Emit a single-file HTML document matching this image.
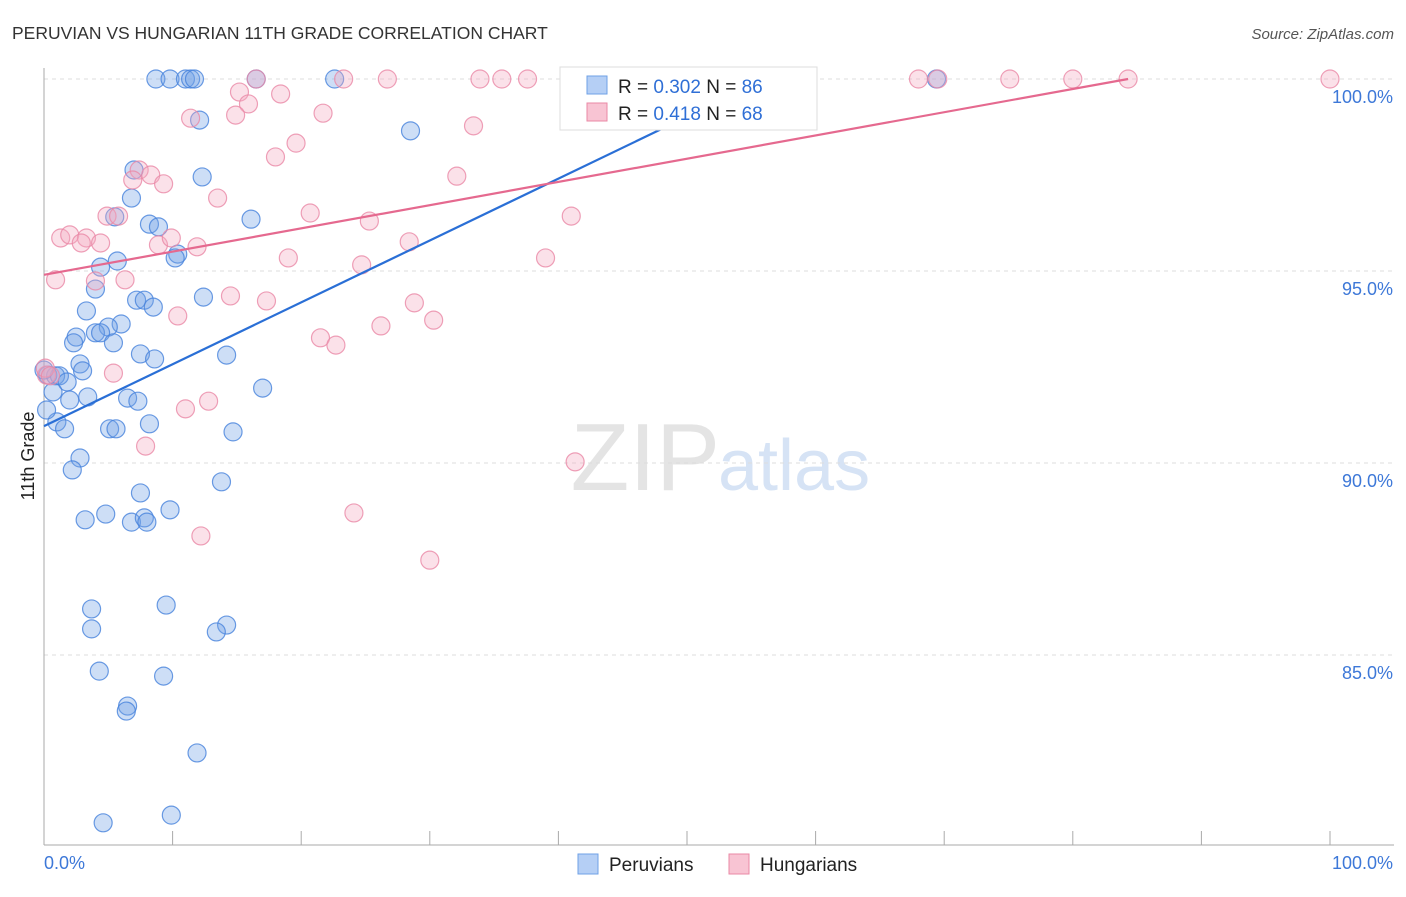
<!DOCTYPE html>
<html><head><meta charset="utf-8"><style>
body{margin:0;background:#fff;font-family:"Liberation Sans",sans-serif;}
svg text{font-family:"Liberation Sans",sans-serif;}
</style></head><body>
<svg width="1406" height="892" viewBox="0 0 1406 892" id="chart">
<text x="12" y="39" font-size="17.5" fill="#333">PERUVIAN VS HUNGARIAN 11TH GRADE CORRELATION CHART</text>
<text x="1394" y="39" font-size="15" fill="#555" font-style="italic" text-anchor="end">Source: ZipAtlas.com</text>
<text x="720" y="490" font-size="96" fill="#e4e4e4" text-anchor="end" font-family="Liberation Serif">ZIP</text>
<text x="718" y="490" font-size="72" fill="#d6e3f5">atlas</text>
<g id="grid"></g><g id="axes"></g><g id="pts"></g><g id="lines"></g>
<text transform="translate(34,456) rotate(-90)" font-size="18" fill="#222" text-anchor="middle">11th Grade</text>
<g>
<rect x="560" y="67" width="257" height="63" fill="#fff" stroke="#ddd"/>
<rect x="587" y="76" width="20" height="18" fill="#b5cff5" stroke="#6fa0e6"/>
<text x="618" y="93" font-size="19" fill="#222">R = <tspan fill="#2f6fd6">0.302</tspan>    N = <tspan fill="#2f6fd6">86</tspan></text>
<rect x="587" y="103" width="20" height="18" fill="#f8c4d3" stroke="#ea88a6"/>
<text x="618" y="120" font-size="19" fill="#222">R = <tspan fill="#2f6fd6"> 0.418</tspan>    N = <tspan fill="#2f6fd6">68</tspan></text>
</g>
<g>
<rect x="578" y="854" width="20" height="20" fill="#b5cff5" stroke="#6fa0e6"/>
<text x="609" y="871" font-size="19" fill="#222">Peruvians</text>
<rect x="729" y="854" width="20" height="20" fill="#f8c4d3" stroke="#ea88a6"/>
<text x="760" y="871" font-size="19" fill="#222">Hungarians</text>
</g>
</svg>
<script>
const blueX=[8.7,9.8,11.0,11.4,11.7,22.6,69.4,12.1,28.5,7.0,12.3,6.8,5.5,16.1,8.2,8.9,10.4,10.2,5.7,4.4,4.0,7.2,7.8,8.5,12.4,3.3,6.0,5.0,4.0,4.4,2.5,2.3,5.4,7.5,8.6,14.2,2.8,3.0,0.3,0.9,1.2,1.8,0.7,17.0,3.4,2.0,6.5,7.3,1.0,1.6,8.2,5.1,5.6,14.7,2.8,2.2,7.5,13.8,9.8,3.2,4.8,6.8,7.8,8.0,3.7,3.7,9.5,14.2,13.4,4.3,9.3,6.5,6.4,11.9,4.6,9.9,16.5,0,0.2];
const blueY=[100,100,100,100,100,100,100,98.93,98.65,97.63,97.45,96.90,96.41,96.35,96.22,96.15,95.44,95.34,95.26,95.10,94.53,94.24,94.24,94.06,94.32,93.96,93.62,93.54,93.39,93.39,93.28,93.13,93.13,92.84,92.71,92.81,92.58,92.40,92.29,92.27,92.27,92.11,91.85,91.95,91.72,91.64,91.69,91.61,91.07,90.89,91.02,90.89,90.89,90.81,90.13,89.82,89.22,89.51,88.78,88.52,88.67,88.46,88.57,88.46,86.20,85.68,86.30,85.78,85.60,84.58,84.45,83.67,83.54,82.45,80.63,80.83,100,92.42,91.38];
const pinkX=[16.5,23.3,26.7,33.9,35.6,37.6,53.8,68.0,69.5,75.1,80.0,84.3,100,15.2,18.4,15.9,14.9,11.4,21.7,33.4,19.6,18.0,7.4,6.9,8.3,9.3,13.5,32.1,20.7,25.3,41.0,4.9,5.8,1.3,2.0,3.3,2.9,4.4,8.9,9.9,11.9,19.0,28.4,39.0,24.7,0.9,4.0,6.3,14.5,17.3,10.4,28.8,30.3,26.2,21.5,22.7,5.4,0.2,11.0,12.8,7.9,41.3,24.1,12.2,30.0,0.1,0.5];
const pinkY=[100,100,100,100,100,100,100,100,100,100,100,100,100,99.66,99.61,99.35,99.06,98.98,99.11,98.78,98.33,97.97,97.63,97.37,97.50,97.27,96.90,97.47,96.51,96.30,96.43,96.43,96.43,95.86,95.94,95.86,95.73,95.73,95.68,95.86,95.63,95.34,95.76,95.34,95.16,94.77,94.74,94.77,94.35,94.22,93.83,94.17,93.72,93.57,93.26,93.07,92.34,92.29,91.41,91.61,90.44,90.03,88.70,88.10,87.47,92.47,92.27];
const blueTrend=[[0,90.96],[56.1,100]];
const pinkTrend=[[0,94.9],[84.3,100]];
const yTicks=[100,95,90,85];
const yTickLabels=["100.0%","95.0%","90.0%","85.0%"];
const xTicks=[0,10,20,30,40,50,60,70,80,90,100];
const xEndLabels=["0.0%","100.0%"];

const NS="http://www.w3.org/2000/svg";
const sx=v=>44+v*12.86;
const sy=v=>79+(100-v)*38.4;
function mk(tag,attrs,parent){const e=document.createElementNS(NS,tag);for(const k in attrs)e.setAttribute(k,attrs[k]);document.getElementById(parent).appendChild(e);return e;}
yTicks.forEach((t,i)=>{
  const g=mk('line',{x1:44,x2:1394,y1:sy(t),y2:sy(t),stroke:'#ddd','stroke-dasharray':'4,4'},'grid');
  
  
  const l=mk('text',{x:1393,y:sy(t)+24,'font-size':18,fill:'#3d78d8','text-anchor':'end'},'grid');
  l.textContent=yTickLabels[i];
  
  
});
const ax=mk('line',{x1:44,x2:44,y1:68,y2:845,stroke:'#aaa'},'axes');


const bx=mk('line',{x1:44,x2:1394,y1:845,y2:845,stroke:'#aaa'},'axes');


xTicks.forEach(t=>{
  const k=mk('line',{x1:sx(t),x2:sx(t),y1:831,y2:845,stroke:'#aaa'},'axes');
  
  
});
const xl0=mk('text',{x:44,y:869,'font-size':18,fill:'#3d78d8'},'axes');xl0.textContent=xEndLabels[0];


const xl1=mk('text',{x:1393,y:869,'font-size':18,fill:'#3d78d8','text-anchor':'end'},'axes');xl1.textContent=xEndLabels[1];


blueX.forEach((x,i)=>{
  const c=mk('circle',{cx:sx(x),cy:sy(blueY[i]),r:9,fill:'rgba(111,160,230,0.35)',stroke:'rgba(70,130,220,0.8)','stroke-width':1.2},'pts');
  
  
});
pinkX.forEach((x,i)=>{
  const c=mk('circle',{cx:sx(x),cy:sy(pinkY[i]),r:9,fill:'rgba(244,169,192,0.35)',stroke:'rgba(234,136,166,0.8)','stroke-width':1.2},'pts');
  
  
});
const bl=mk('line',{x1:sx(blueTrend[0][0]),y1:sy(blueTrend[0][1]),x2:sx(blueTrend[1][0]),y2:sy(blueTrend[1][1]),stroke:'#2a6fd6','stroke-width':2.2},'lines');


const pl=mk('line',{x1:sx(pinkTrend[0][0]),y1:sy(pinkTrend[0][1]),x2:sx(pinkTrend[1][0]),y2:sy(pinkTrend[1][1]),stroke:'#e5698f','stroke-width':2.2},'lines');


</script>
</body></html>
